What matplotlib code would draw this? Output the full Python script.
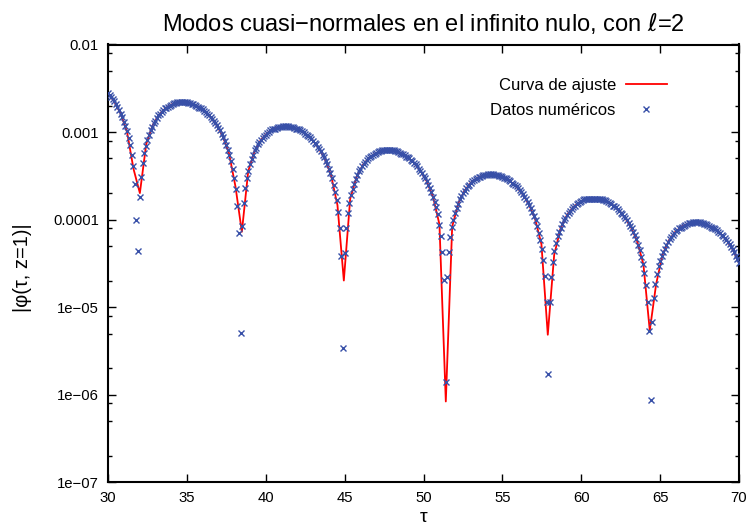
import numpy as np
import matplotlib
matplotlib.use("Agg")
import matplotlib.pyplot as plt
from matplotlib.ticker import FixedLocator, NullFormatter

plt.rcParams['font.family'] = ['Liberation Sans', 'DejaVu Sans']

# Datos numéricos: log10|phi(tau, z=1)| cada 0.1 en tau, de 30 a 70
tau_data = np.linspace(30.0, 70.0, 401)
log_phi_data = np.array([
    -2.55, -2.58, -2.60, -2.62, -2.65, -2.68, -2.71, -2.75, -2.79, -2.83, -2.88, -2.93, -2.99, -3.07, -3.15, -3.26, -3.39, -3.59, -4.00, -4.36,
    -3.74, -3.51, -3.35, -3.24, -3.16, -3.09, -3.03, -2.98, -2.94, -2.90, -2.87, -2.84, -2.81, -2.79, -2.77, -2.75, -2.73, -2.72, -2.71, -2.70,
    -2.69, -2.68, -2.67, -2.67, -2.66, -2.66, -2.66, -2.66, -2.66, -2.66, -2.66, -2.67, -2.67, -2.68, -2.68, -2.69, -2.70, -2.71, -2.72, -2.73,
    -2.74, -2.76, -2.77, -2.79, -2.81, -2.83, -2.85, -2.87, -2.90, -2.92, -2.95, -2.98, -3.02, -3.06, -3.10, -3.15, -3.20, -3.26, -3.33, -3.42,
    -3.52, -3.65, -3.84, -4.15, -5.30, -4.07, -3.81, -3.64, -3.53, -3.44, -3.37, -3.31, -3.26, -3.21, -3.18, -3.14, -3.11, -3.09, -3.07, -3.04,
    -3.03, -3.01, -3.00, -2.98, -2.97, -2.96, -2.96, -2.95, -2.94, -2.94, -2.94, -2.93, -2.93, -2.93, -2.93, -2.94, -2.94, -2.94, -2.95, -2.96,
    -2.96, -2.97, -2.98, -2.99, -3.00, -3.02, -3.03, -3.05, -3.06, -3.08, -3.10, -3.12, -3.14, -3.17, -3.19, -3.22, -3.26, -3.29, -3.33, -3.37,
    -3.42, -3.47, -3.53, -3.60, -3.68, -3.78, -3.91, -4.09, -4.41, -5.47, -4.38, -4.10, -3.93, -3.81, -3.72, -3.65, -3.59, -3.54, -3.49, -3.45,
    -3.42, -3.39, -3.37, -3.34, -3.32, -3.30, -3.29, -3.27, -3.26, -3.25, -3.24, -3.23, -3.22, -3.22, -3.21, -3.21, -3.21, -3.21, -3.21, -3.21,
    -3.21, -3.21, -3.22, -3.22, -3.23, -3.24, -3.25, -3.25, -3.26, -3.28, -3.29, -3.30, -3.32, -3.33, -3.35, -3.37, -3.39, -3.42, -3.44, -3.47,
    -3.50, -3.53, -3.56, -3.60, -3.64, -3.69, -3.74, -3.80, -3.86, -3.94, -4.06, -4.19, -4.37, -4.69, -5.85, -4.65, -4.37, -4.20, -4.08, -4.01,
    -3.93, -3.87, -3.82, -3.77, -3.73, -3.70, -3.67, -3.64, -3.62, -3.60, -3.58, -3.56, -3.55, -3.54, -3.52, -3.51, -3.51, -3.50, -3.49, -3.49,
    -3.49, -3.48, -3.48, -3.48, -3.48, -3.49, -3.49, -3.49, -3.50, -3.50, -3.51, -3.52, -3.53, -3.54, -3.55, -3.56, -3.58, -3.59, -3.61, -3.62,
    -3.64, -3.66, -3.69, -3.71, -3.74, -3.77, -3.80, -3.83, -3.87, -3.91, -3.96, -4.01, -4.07, -4.15, -4.23, -4.33, -4.46, -4.64, -4.94, -5.76,
    -4.94, -4.65, -4.48, -4.36, -4.27, -4.19, -4.14, -4.10, -4.05, -4.01, -3.98, -3.95, -3.92, -3.90, -3.88, -3.86, -3.84, -3.82, -3.81, -3.80,
    -3.79, -3.78, -3.77, -3.77, -3.76, -3.76, -3.76, -3.76, -3.76, -3.76, -3.76, -3.76, -3.77, -3.77, -3.78, -3.78, -3.79, -3.80, -3.81, -3.82,
    -3.84, -3.85, -3.86, -3.88, -3.90, -3.92, -3.94, -3.96, -3.98, -4.01, -4.04, -4.07, -4.10, -4.14, -4.18, -4.22, -4.29, -4.35, -4.43, -4.51,
    -4.61, -4.75, -4.94, -5.27, -6.06, -5.17, -4.90, -4.74, -4.62, -4.53, -4.47, -4.42, -4.37, -4.33, -4.29, -4.26, -4.22, -4.20, -4.17, -4.15,
    -4.13, -4.12, -4.10, -4.09, -4.08, -4.07, -4.06, -4.05, -4.04, -4.04, -4.04, -4.03, -4.03, -4.03, -4.03, -4.03, -4.04, -4.04, -4.05, -4.05,
    -4.06, -4.07, -4.08, -4.09, -4.10, -4.11, -4.12, -4.14, -4.15, -4.17, -4.19, -4.21, -4.23, -4.26, -4.28, -4.31, -4.34, -4.37, -4.41, -4.45,
    -4.49,
])
phi_data = 10.0 ** log_phi_data

# Curva de ajuste |A exp(-g tau) sin(w (tau - tau0))|, muestreada en 100 puntos
fit_amp = 0.0652
fit_decay = 0.0971
fit_freq = 0.4825
fit_zero = 31.877
tau_fit = np.linspace(30.0, 70.0, 100)
phi_fit = fit_amp * np.exp(-fit_decay * tau_fit) * np.abs(np.sin(fit_freq * (tau_fit - fit_zero)))

y_ticks = [1e-7, 1e-6, 1e-5, 1e-4, 1e-3, 1e-2]
y_tick_labels = ['1e−07', '1e−06', '1e−05', '0.0001', '0.001', '0.01']

fig = plt.figure(figsize=(7.48, 5.25), dpi=100)
ax = fig.add_axes([108 / 748, 1 - 482.3 / 525, 631 / 748, 437.8 / 525])

ax.plot(tau_fit, phi_fit, color='#ff0000', lw=1.3, label='Curva de ajuste', zorder=2)
ax.plot(tau_data, phi_data, ls='none', marker='x', ms=5.0, mew=1.0, color='#3850a8',
        label='Datos numéricos', zorder=3)

ax.set_yscale('log')
ax.set_xlim(30, 70)
ax.set_ylim(1e-7, 1e-2)
ax.set_xticks(range(30, 71, 5))
ax.yaxis.set_major_locator(FixedLocator(y_ticks))
ax.set_yticklabels(y_tick_labels)
ax.yaxis.set_minor_locator(FixedLocator([m * 10.0 ** e for e in range(-7, -2) for m in (2, 5, 8)]))
ax.yaxis.set_minor_formatter(NullFormatter())
ax.tick_params(which='both', direction='in', top=True, right=True, labelsize=10.7, pad=6.5)
ax.tick_params(which='major', length=6, width=1)
ax.tick_params(which='minor', length=3, width=1)
for sp in ax.spines.values():
    sp.set_linewidth(1.5)

ax.set_title('Modos cuasi−normales en el infinito nulo, con $\\ell$=2', fontsize=17, pad=10)
ax.set_xlabel('τ', fontsize=14, labelpad=3)
ax.set_ylabel('|φ(τ, z=1)|', fontsize=14.5)
ax.yaxis.set_label_coords(-0.12, 0.49)

ax.legend(loc='upper right', bbox_to_anchor=(0.8854, 0.924), frameon=False, markerfirst=False,
          fontsize=12, handlelength=2.45, handletextpad=0.6, labelspacing=0.6,
          borderpad=0, borderaxespad=0)

fig.savefig("out.png")
